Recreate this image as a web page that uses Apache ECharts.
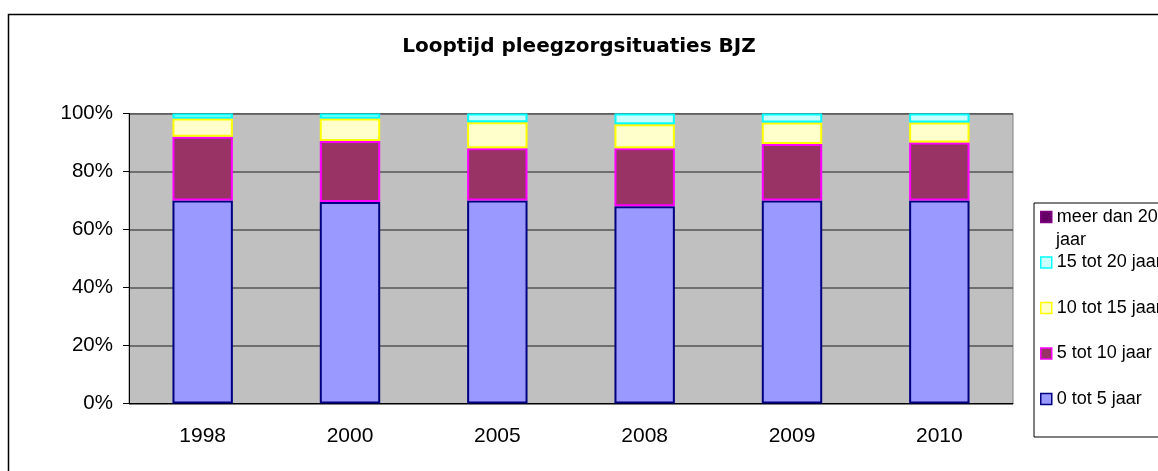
<!DOCTYPE html>
<html>
<head>
<meta charset="utf-8">
<script src="https://cdn.jsdelivr.net/npm/echarts@6/dist/echarts.min.js"></script>
<style>
  html, body { margin: 0; padding: 0; background: #fff; }
  #chart { width: 1158px; height: 471px; }
</style>
</head>
<body>
<div id="chart"></div>
<script>
// data (percent of cases per year)
var years = ['1998', '2000', '2005', '2008', '2009', '2010'];
var tot5 = [70, 69.5, 70, 68, 70, 70];
var tot10 = [22, 21, 18, 20, 19.5, 20];
var tot15 = [6.3, 7.8, 9, 8.3, 7.4, 6.9];
var tot20 = [1.7, 1.7, 3, 3.7, 3.1, 3.1];
var meer20 = [0, 0, 0, 0, 0, 0];

var chartDom = document.getElementById('chart');
var myChart = echarts.init(chartDom);

// name, values, fill, border
var seriesDefs = [
    ['0 tot 5 jaar', tot5, '#9999FF', '#000080'],
    ['5 tot 10 jaar', tot10, '#993366', '#FF00FF'],
    ['10 tot 15 jaar', tot15, '#FFFFCC', '#FFFF00'],
    ['15 tot 20 jaar', tot20, '#CCFFFF', '#00FFFF'],
    ['meer dan 20 jaar', meer20, '#660066', '#800080']
];

var series = seriesDefs.map(function (s) {
    return {
        name: s[0],
        type: 'bar',
        stack: 'total',
        barWidth: '41%',
        data: s[1],
        itemStyle: {
            color: s[2],
            borderColor: s[3],
            borderWidth: s[1].every(function (v) { return v === 0; }) ? 0 : 2
        }
    };
});

// legend runs top to bottom in reverse stack order
var legendData = seriesDefs.slice().reverse().map(function (s) {
    return {
        name: s[0],
        itemStyle: { color: s[2], borderColor: s[3], borderWidth: 1.5 }
    };
});

var option = {
    animation: false,
    title: {
        text: 'Looptijd pleegzorgsituaties BJZ',
        left: 'center',
        top: 32,
        textStyle: { fontFamily: 'DejaVu Sans', fontWeight: 'bold', fontSize: 20, color: '#000' }
    },
    graphic: [{
        type: 'rect',
        shape: { x: 8.5, y: 14.5, width: 1170, height: 480 },
        style: { fill: 'none', stroke: '#000', lineWidth: 1.5 },
        z: 100
    }, {
        // second line of the wrapped legend label "meer dan 20 jaar"
        type: 'text',
        left: 1056,
        top: 231,
        style: { text: 'jaar', font: '18px "Liberation Sans"', fill: '#000' }
    }],
    legend: {
        orient: 'vertical',
        left: 1034,
        top: 203,
        padding: [4, 20, 28, 6],
        itemGap: 25.5,
        itemWidth: 11,
        itemHeight: 11,
        icon: 'rect',
        borderColor: '#000',
        borderWidth: 1,
        data: legendData,
        formatter: function (name) {
            return name === 'meer dan 20 jaar' ? 'meer dan 20' : name;
        },
        textStyle: { fontFamily: 'Liberation Sans', fontSize: 18, color: '#000', lineHeight: 20 }
    },
    grid: {
        left: 129,
        right: 145,
        top: 113.5,
        bottom: 67.5,
        show: true,
        backgroundColor: '#C0C0C0',
        borderColor: '#808080',
        borderWidth: 1
    },
    xAxis: {
        type: 'category',
        data: years,
        axisLine: { lineStyle: { color: '#000', width: 1 } },
        axisTick: { length: 6, lineStyle: { color: '#000' } },
        axisLabel: { margin: 22, fontFamily: 'Liberation Sans', fontSize: 21, color: '#000' }
    },
    yAxis: {
        type: 'value',
        min: 0,
        max: 100,
        interval: 20,
        axisLine: { show: true, lineStyle: { color: '#000', width: 1 } },
        axisTick: { show: true, length: 6, lineStyle: { color: '#000' } },
        axisLabel: { margin: 16, formatter: '{value}%', fontFamily: 'Liberation Sans', fontSize: 20.5, color: '#000' },
        splitLine: { lineStyle: { color: '#555', width: 1.5 } }
    },
    series: series
};

option && myChart.setOption(option);
</script>
</body>
</html>
